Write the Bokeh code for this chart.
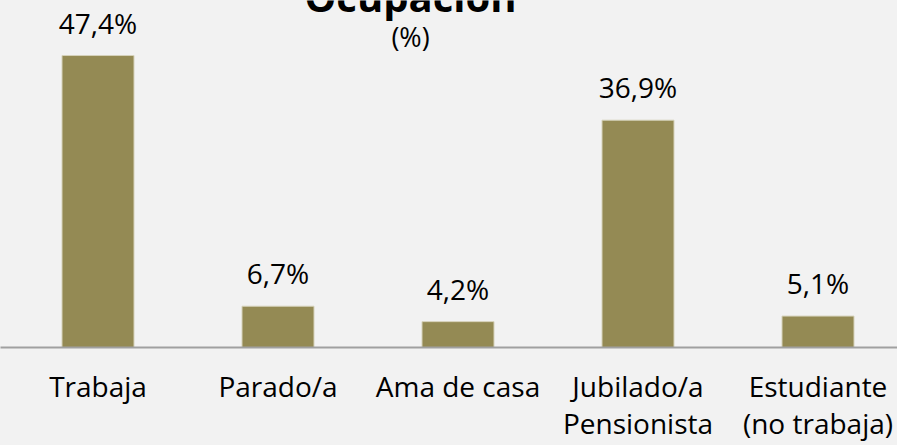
from bokeh.plotting import figure
from bokeh.models import Range1d, FixedTicker, Label, GlobalInlineStyleSheet, ColumnDataSource
from bokeh.core.properties import value
from bokeh.embed import file_html
from bokeh.resources import INLINE

# ---- data ----
categories = ["Trabaja", "Parado/a", "Ama de casa", "Jubilado/a\nPensionista", "Estudiante\n(no trabaja)"]
values = [47.4, 6.7, 4.2, 36.9, 5.1]
title_text = "Ocupación"
subtitle_text = "(%)"

value_labels = [f"{v:.1f}".replace(".", ",") + "%" for v in values]
positions = list(range(len(categories)))

FONT = "Open Sans"
BAR = "#948A54"
BG = "#F2F2F2"

W, H = 897, 445
BAND = 180          # px per category
FIRST_CENTER = 97.5  # px
FRAME_H = 347
PX_PER_UNIT = 6.16

x0 = -FIRST_CENTER / BAND
p = figure(width=W, height=H, output_backend="svg", toolbar_location=None,
           x_range=Range1d(x0, x0 + W / BAND),
           y_range=Range1d(0, FRAME_H / PX_PER_UNIT),
           y_axis_location=None,
           min_border_left=0, min_border_right=0, min_border_top=0, min_border_bottom=H - FRAME_H)
p.stylesheets = [GlobalInlineStyleSheet(css="html, body { background-color: #F2F2F2; }")]
p.background_fill_color = BG
p.border_fill_color = BG
p.outline_line_color = None
p.grid.visible = False

src = ColumnDataSource(dict(x=positions, top=values, label=value_labels))
p.vbar(x="x", top="top", width=0.4, source=src, fill_color=BAR,
       line_color="#D6D2BA", line_width=1)
p.text(x="x", y="top", text="label", source=src, text_align="center",
       text_baseline="alphabetic", y_offset=-33, text_font=value(FONT),
       text_font_size="28px", text_color="#000000")

# category axis
ax = p.xaxis[0]
ax.ticker = FixedTicker(ticks=positions)
ax.major_label_overrides = {i: c for i, c in zip(positions, categories)}
ax.major_label_text_font = FONT
ax.major_label_text_font_size = "28px"
ax.major_label_text_color = "#000000"
ax.major_label_text_line_height = 0.98
ax.major_label_standoff = 19
ax.major_tick_line_color = None
ax.minor_tick_line_color = None
ax.major_tick_out = 0
ax.major_tick_in = 0
ax.axis_line_color = "#A0A0A0"
ax.axis_line_width = 2

title_x = x0 + 410 / BAND
p.add_layout(Label(x=title_x, y=57.0, text=title_text, text_align="center",
                   text_baseline="alphabetic", text_font=FONT, text_font_style="bold",
                   text_font_size="40px", text_color="#000000"))
p.add_layout(Label(x=title_x, y=50.5, text=subtitle_text, text_align="center",
                   text_baseline="alphabetic", text_font=FONT,
                   text_font_size="27px", text_color="#000000"))

open("out.html", "w").write(file_html(p, INLINE))
